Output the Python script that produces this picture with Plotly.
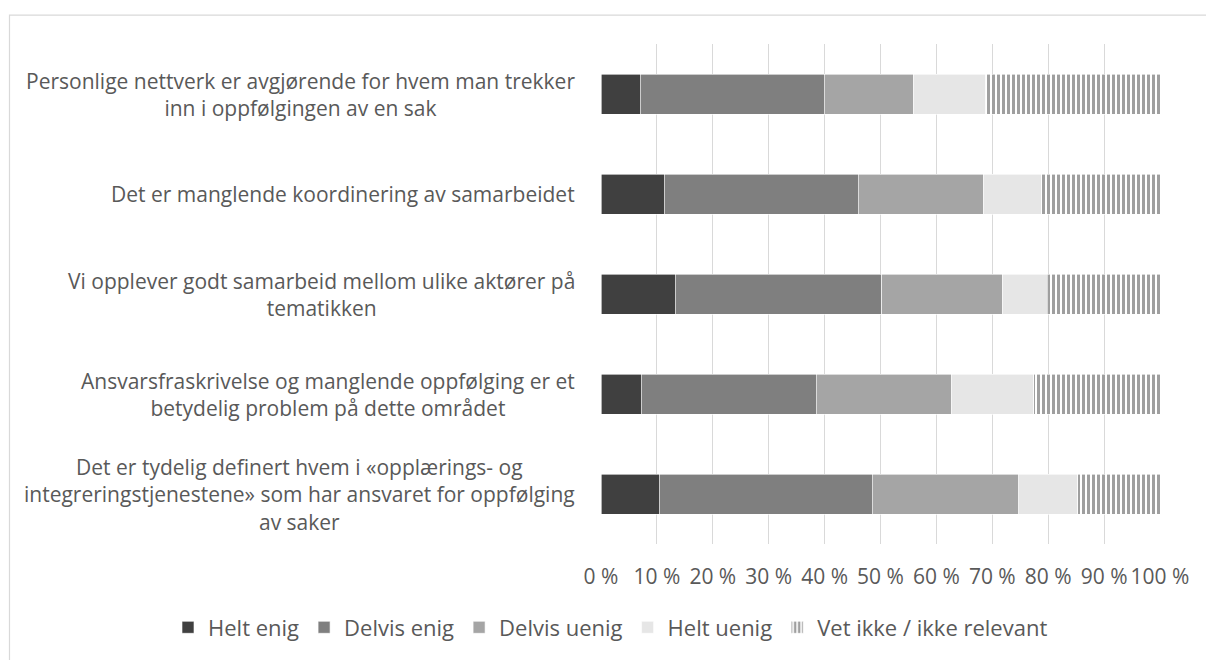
import plotly.graph_objects as go

statements = [
    "Personlige nettverk er avgjørende for hvem man trekker inn i oppfølgingen av en sak",
    "Det er manglende koordinering av samarbeidet",
    "Vi opplever godt samarbeid mellom ulike aktører på tematikken",
    "Ansvarsfraskrivelse og manglende oppfølging er et betydelig problem på dette området",
    "Det er tydelig definert hvem i «opplærings- og integreringstjenestene» som har ansvaret for oppfølging av saker",
]
statement_labels = [
    "Personlige nettverk er avgjørende for hvem man trekker<br>inn i oppfølgingen av en sak",
    "Det er manglende koordinering av samarbeidet",
    "Vi opplever godt samarbeid mellom ulike aktører på<br>tematikken",
    "Ansvarsfraskrivelse og manglende oppfølging er et<br>betydelig problem på dette området",
    "Det er tydelig definert hvem i «opplærings- og<br>integreringstjenestene» som har ansvaret for oppfølging<br>av saker",
]

series_names = ["Helt enig", "Delvis enig", "Delvis uenig", "Helt uenig", "Vet ikke / ikke relevant"]
helt_enig = [7.0, 11.3, 13.3, 7.2, 10.4]
delvis_enig = [32.9, 34.7, 36.9, 31.3, 38.1]
delvis_uenig = [16.0, 22.4, 21.6, 24.2, 26.2]
helt_uenig = [12.9, 10.4, 8.0, 14.7, 10.6]
vet_ikke = [31.2, 21.2, 20.2, 22.6, 14.7]

x_ticks = [0, 10, 20, 30, 40, 50, 60, 70, 80, 90, 100]
x_tick_labels = ["0 %", "10 %", "20 %", "30 %", "40 %", "50 %", "60 %", "70 %", "80 %", "90 %", "100 %"]

W, H = 1206, 660
margin = dict(l=601, r=46, t=44, b=113)
plot_w = W - margin["l"] - margin["r"]
plot_h = H - margin["t"] - margin["b"]

text_color = "#595959"
font = dict(family="Open Sans, sans-serif", size=21, color=text_color)
legend_font = dict(family="Open Sans, sans-serif", size=22, color=text_color)

fig = go.Figure()
fills = ["#404040", "#7f7f7f", "#a5a5a5", "#e6e6e6"]
for name, values, color in zip(series_names[:4], [helt_enig, delvis_enig, delvis_uenig, helt_uenig], fills):
    fig.add_trace(go.Bar(
        y=statements, x=values, name=name, orientation="h", width=0.4,
        marker=dict(color=color, line=dict(color="#ffffff", width=0.6)),
    ))

fig.add_trace(go.Bar(
    y=statements, x=vet_ikke, name=series_names[4], orientation="h", width=0.4,
    marker=dict(
        color="#404040",
        line=dict(color="#ffffff", width=0.6),
        pattern=dict(shape="|", size=5, solidity=0.6, fgcolor="#404040", bgcolor="#ffffff"),
    ),
))

for cat, label in zip(statements, statement_labels):
    fig.add_annotation(
        x=0, xref="paper", y=cat, yref="y", text=label, showarrow=False,
        xanchor="right", xshift=-24, align="center", font=font,
    )


def px_x(p):
    return (p - margin["l"]) / plot_w


def px_y(p):
    return (H - margin["b"] - p) / plot_h


# outer chart frame
fig.add_shape(
    type="rect", xref="paper", yref="paper",
    x0=px_x(9.5), x1=px_x(1215), y0=px_y(670), y1=px_y(15),
    line=dict(color="#d9d9d9", width=1.2), fillcolor="rgba(0,0,0,0)", layer="below",
)

fig.update_layout(
    width=W, height=H, margin=margin,
    barmode="stack",
    paper_bgcolor="white", plot_bgcolor="white",
    font=font,
    showlegend=True,
    legend=dict(
        orientation="h", x=px_x(168), xanchor="left", y=px_y(631), yanchor="middle",
        font=legend_font, traceorder="normal", itemwidth=30, bgcolor="rgba(0,0,0,0)",
    ),
    xaxis=dict(
        range=[0, 100], tickvals=x_ticks, ticktext=x_tick_labels,
        showgrid=True, gridcolor="#d9d9d9", gridwidth=1.3,
        zeroline=False, showline=False, ticks="", ticklabelstandoff=18,
        tickfont=font, fixedrange=True,
    ),
    yaxis=dict(
        autorange="reversed", showticklabels=False, showgrid=False,
        zeroline=False, showline=False, ticks="", fixedrange=True,
    ),
)

fig.write_html(
    "out.html",
    config={"displayModeBar": False},
    post_script="document.body.style.margin='0px';",
)
